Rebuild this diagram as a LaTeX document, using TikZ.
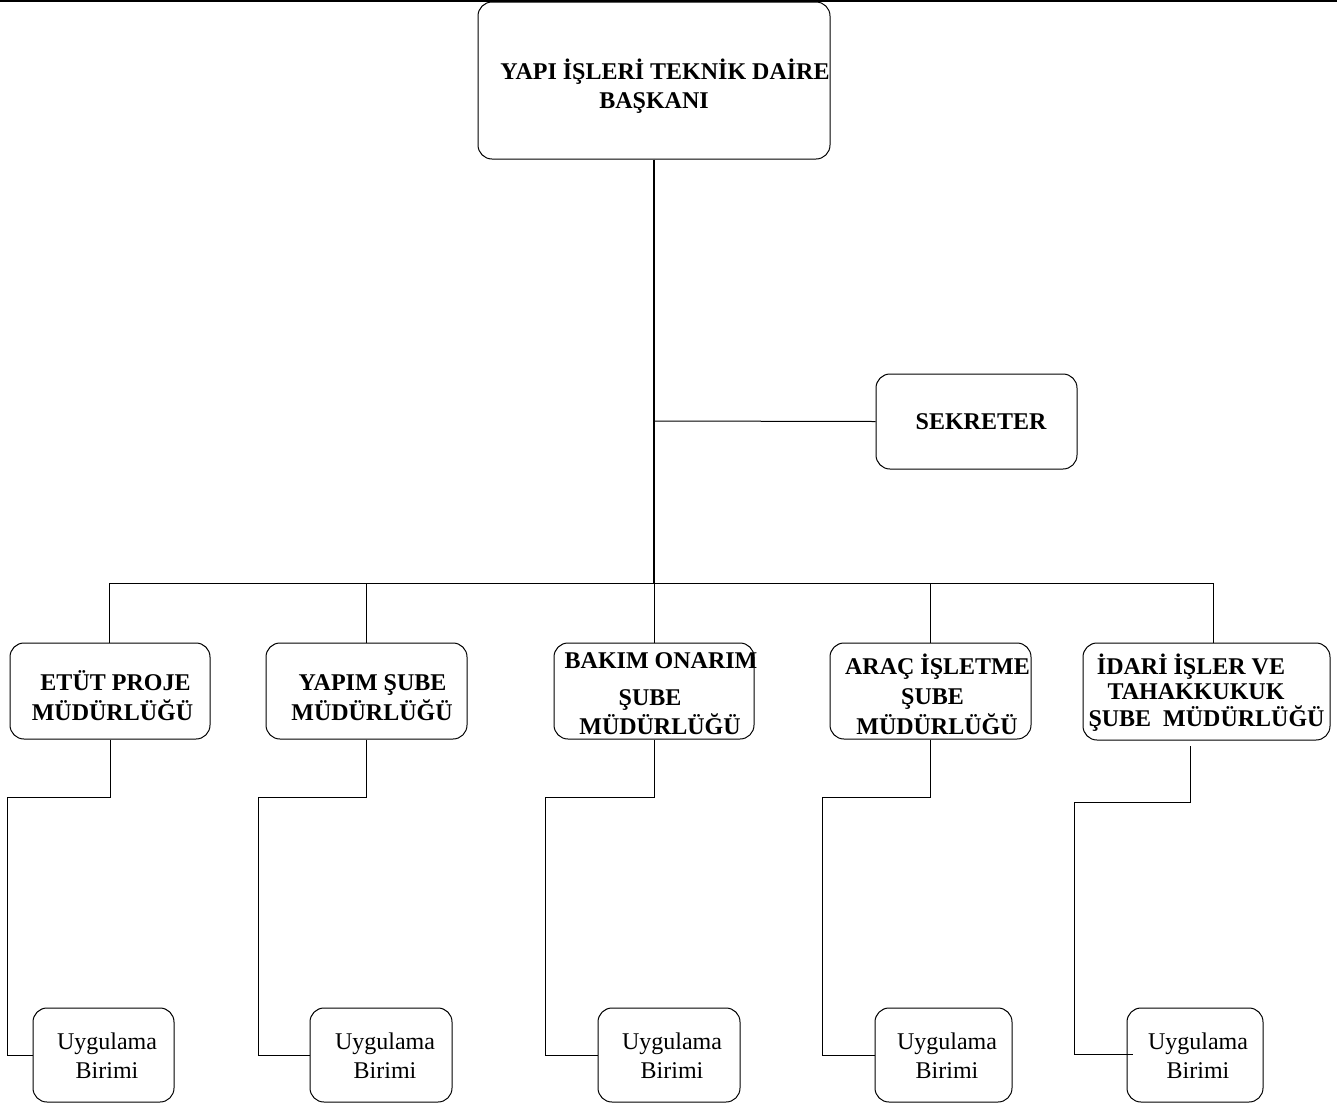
\documentclass[tikz,border=0pt]{standalone}
\usepackage{fontspec}
\setmainfont{Liberation Serif}
\begin{document}
\begin{tikzpicture}[x=1pt,y=-1pt,
  box/.style={draw, rounded corners=14pt, line width=1pt, inner sep=0pt},
  lbl/.style={anchor=base, inner sep=0pt, font=\bfseries\fontsize{24}{29}\selectfont},
  lblr/.style={anchor=base, inner sep=0pt, font=\fontsize{24}{29}\selectfont},
  conn/.style={line width=1pt},
  trunk/.style={line width=2pt}]
\useasboundingbox (0,0) rectangle (1337,1106);
% top rule
\coordinate (ruleL) at (0,1);
\coordinate (ruleR) at (1337,1);
\draw[line width=2pt] (ruleL) -- (ruleR);
% boxes
\node[box, minimum width=352pt, minimum height=157pt] (top) at (654,80.5) {};
\node[box, minimum width=201pt, minimum height=95pt] (sek) at (976.5,421.5) {};
\node[box, minimum width=200pt, minimum height=96pt] (etut) at (110,691) {};
\node[box, minimum width=201pt, minimum height=96pt] (yapim) at (366.5,691) {};
\node[box, minimum width=200pt, minimum height=96pt] (bakim) at (654,691) {};
\node[box, minimum width=201pt, minimum height=96pt] (arac) at (930.5,691) {};
\node[box, minimum width=247pt, minimum height=97pt] (idari) at (1206.5,691.5) {};
\node[box, minimum width=141pt, minimum height=94pt] (u1) at (103.5,1055) {};
\node[box, minimum width=142pt, minimum height=94pt] (u2) at (381,1055) {};
\node[box, minimum width=142pt, minimum height=94pt] (u3) at (669,1055) {};
\node[box, minimum width=137pt, minimum height=94pt] (u4) at (943.5,1055) {};
\node[box, minimum width=136pt, minimum height=94pt] (u5) at (1195,1055) {};
% texts
\node[lbl] (t1) at (665,79) {YAPI İŞLERİ TEKNİK DAİRE};
\node[lbl] (t2) at (654,108) {BAŞKANI};
\node[lbl] (s1) at (981,429) {SEKRETER};
\node[lbl] (e1) at (115.5,690) {ETÜT PROJE};
\node[lbl] (e2) at (112.5,720) {MÜDÜRLÜĞÜ};
\node[lbl] (y1) at (372.5,690) {YAPIM ŞUBE};
\node[lbl] (y2) at (372,720) {MÜDÜRLÜĞÜ};
\node[lbl] (b1) at (661,668) {BAKIM ONARIM};
\node[lbl] (b2) at (650,705) {ŞUBE};
\node[lbl] (b3) at (660,734) {MÜDÜRLÜĞÜ};
\node[lbl] (a1) at (937.5,674) {ARAÇ İŞLETME};
\node[lbl] (a2) at (932.5,704) {ŞUBE};
\node[lbl] (a3) at (937,734) {MÜDÜRLÜĞÜ};
\node[lbl] (i1) at (1191,674) {İDARİ İŞLER VE};
\node[lbl] (i2) at (1196,699) {TAHAKKUKUK};
\node[lbl] (i3) at (1206.5,726) {ŞUBE\ \ MÜDÜRLÜĞÜ};
\foreach \n/\x in {1/107,2/385,3/672,4/947,5/1198}{
  \node[lblr] (ua\n) at (\x,1049) {Uygulama};
  \node[lblr] (ub\n) at (\x,1078) {Birimi};
}
% connectors
\coordinate (b0) at (654,583);
\coordinate (s0) at (654,421);
\coordinate (busL) at (109,583);
\coordinate (busR) at (1213,583);
\draw[trunk] (top.south) -- (b0);
\draw[conn] (s0) -- (sek.west);
\draw[conn] (busL) -- (busR);
\draw[conn] (busL) -- (busL |- etut.north);
\draw[conn] (yapim.north |- b0) -- (yapim.north);
\draw[conn] (b0) -- (bakim.north);
\draw[conn] (arac.north |- b0) -- (arac.north);
\draw[conn] (busR) -- (busR |- idari.north);
% lower connectors
\coordinate (c1) at (7,797);
\coordinate (c2) at (258,797);
\coordinate (c3) at (545,797);
\coordinate (c4) at (822,797);
\coordinate (d5) at (1190,746);
\coordinate (c5) at (1074,802);
\coordinate (u5in) at (1133,1054);
\draw[conn] (etut.south) |- (c1) |- (u1.west);
\draw[conn] (yapim.south) |- (c2) |- (u2.west);
\draw[conn] (bakim.south) |- (c3) |- (u3.west);
\draw[conn] (arac.south) |- (c4) |- (u4.west);
\draw[conn] (d5) |- (c5) |- (u5in);
\end{tikzpicture}
\end{document}
